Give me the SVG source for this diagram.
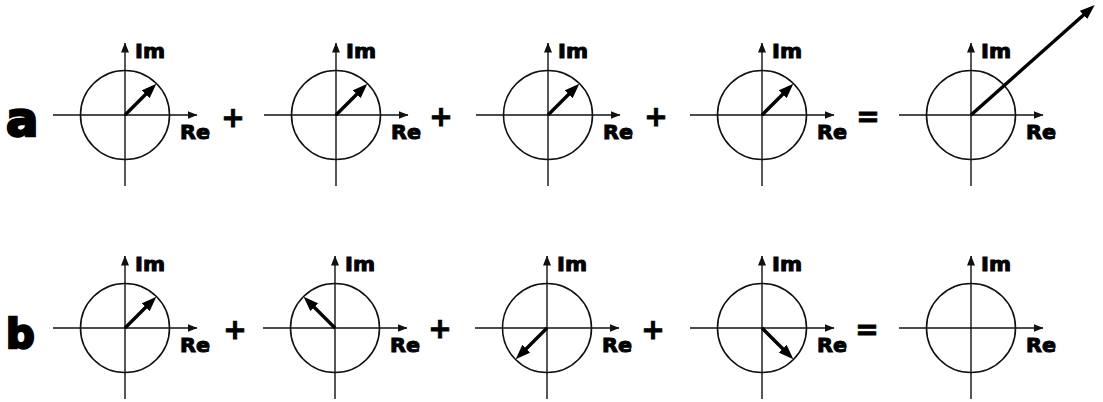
<svg xmlns="http://www.w3.org/2000/svg" width="1103" height="402" viewBox="0 0 1103 402">
<style>
.ax{stroke:#111;stroke-width:1.4;fill:none}
.ax-h{marker-end:url(#axhead)}
.ci{stroke:#111;stroke-width:1.6;fill:none}
.ph{stroke:#000;stroke-width:3.4;fill:none;marker-end:url(#phhead)}
.lbl{font-family:"DejaVu Sans","Liberation Sans",sans-serif;font-weight:bold;font-size:20px;fill:#000;stroke:#000;stroke-width:1}
.op{font-family:"DejaVu Sans","Liberation Sans",sans-serif;font-weight:bold;font-size:28px;fill:#000;stroke:#000;stroke-width:0.9;text-anchor:middle}
.big{font-family:"DejaVu Sans","Liberation Sans",sans-serif;font-weight:bold;fill:#000;stroke:#000;stroke-width:2.5}
</style>
<defs>
<marker id="axhead" viewBox="0 0 10 8" refX="9.5" refY="4" markerWidth="10" markerHeight="8" markerUnits="userSpaceOnUse" orient="auto">
<path d="M0,0 L10,4 L0,8 z" fill="#111"/>
</marker>
<marker id="phhead" viewBox="0 0 15 11" refX="6" refY="5.5" markerWidth="15" markerHeight="11" markerUnits="userSpaceOnUse" orient="auto">
<path d="M0,0 L15,5.5 L0,11 z" fill="#000"/>
</marker>
<g id="plane">
<line class="ax ax-h" x1="-72" y1="0" x2="72" y2="0"/>
<line class="ax ax-h" x1="0" y1="71" x2="0" y2="-72"/>
<circle class="ci" cx="0" cy="0" r="44.5"/>
<text class="lbl" x="10" y="-57" textLength="30" lengthAdjust="spacingAndGlyphs">Im</text>
<text class="lbl" x="55" y="23.5" textLength="30" lengthAdjust="spacingAndGlyphs">Re</text>
</g>
</defs>

<g id="label-a"><text class="big" x="6" y="136" font-size="48">a</text></g>
<g id="label-b"><text class="big" x="6" y="348" font-size="40">b</text></g>

<g id="a1"><use href="#plane" x="125" y="115"/></g>
<g id="a2"><use href="#plane" x="336" y="115"/></g>
<g id="a3"><use href="#plane" x="548" y="115"/></g>
<g id="a4"><use href="#plane" x="762" y="115"/></g>
<g id="a5"><use href="#plane" x="971" y="115"/></g>

<g id="b1"><use href="#plane" x="125" y="328"/></g>
<g id="b2"><use href="#plane" x="335" y="328"/></g>
<g id="b3"><use href="#plane" x="547" y="328"/></g>
<g id="b4"><use href="#plane" x="762" y="328"/></g>
<g id="b5"><use href="#plane" x="971" y="328"/></g>

<g id="operators">
<text class="op" x="233" y="127">+</text>
<text class="op" x="441" y="126">+</text>
<text class="op" x="656" y="126">+</text>
<text class="op" x="868" y="126">=</text>
<text class="op" x="235" y="339">+</text>
<text class="op" x="440" y="338">+</text>
<text class="op" x="653" y="339">+</text>
<text class="op" x="867" y="339">=</text>
</g>

<g id="connectors">
<line class="ph" x1="125" y1="115" x2="150" y2="90"/>
<line class="ph" x1="336" y1="115" x2="361" y2="90"/>
<line class="ph" x1="548" y1="115" x2="573" y2="90"/>
<line class="ph" x1="762" y1="115" x2="787" y2="90"/>
<line class="ph" x1="971" y1="115" x2="1088" y2="11"/>
<line class="ph" x1="125" y1="328" x2="150" y2="303"/>
<line class="ph" x1="335" y1="328" x2="310" y2="303"/>
<line class="ph" x1="547" y1="328" x2="522" y2="353"/>
<line class="ph" x1="762" y1="328" x2="787" y2="353"/>
</g>
</svg>
